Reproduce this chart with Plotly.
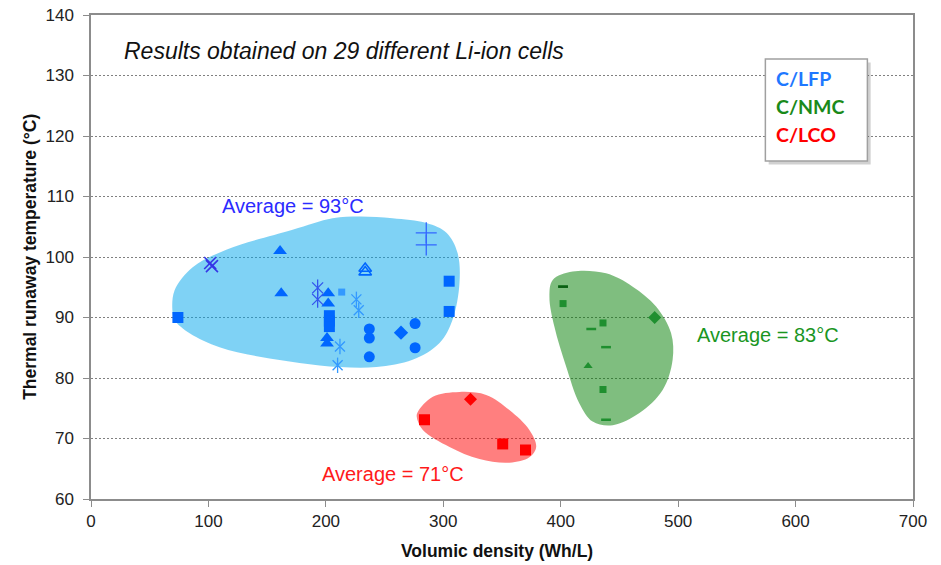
import plotly.graph_objects as go

# ---------------- data ----------------
# C/LFP cells
lfp_square_x = [74, 203, 203, 203, 305, 305]
lfp_square_y = [90, 90.3, 89.4, 88.5, 96, 91]
lfp_small_square_x = [213.5]
lfp_small_square_y = [94.2]
lfp_triangle_x = [161, 162, 202, 202, 201, 201]
lfp_triangle_y = [101, 94, 94, 92.3, 86.6, 85.7]
lfp_open_triangle_x = [233.5, 233.5]
lfp_open_triangle_y = [98.1, 97.5]
lfp_circle_x = [237, 237, 237, 276, 276]
lfp_circle_y = [88.1, 86.6, 83.5, 89, 85]
lfp_diamond_x = [264]
lfp_diamond_y = [87.5]
lfp_x_x = [101.5, 103]
lfp_x_y = [99, 98.5]
lfp_star_x = [193, 193]
lfp_star_y = [94.9, 93.0]
lfp_light_star_x = [226, 228, 212, 210]
lfp_light_star_y = [93, 91.2, 85.2, 82.1]
lfp_cross_x = [285.5, 285.5]
lfp_cross_y = [104, 102]

# C/NMC cells
nmc_square_x = [402, 436, 436]
nmc_square_y = [92.3, 89.1, 78.1]
nmc_dash_x = [402, 426, 438.6, 438.6]
nmc_dash_y = [95.1, 88.1, 85.1, 73.1]
nmc_triangle_x = [423.3]
nmc_triangle_y = [82]
nmc_diamond_x = [480]
nmc_diamond_y = [90]

# C/LCO cells
lco_square_x = [284, 350.6, 370]
lco_square_y = [73.1, 69.1, 68.1]
lco_diamond_x = [323.2]
lco_diamond_y = [76.5]

# outlines of the highlighted regions
lfp_region_x = [69.3, 71.2, 84.0, 109.5, 143.6, 177.6, 211.7, 243.1, 273.8, 296.8, 307.8,
                313.8, 312.1, 302.7, 285.7, 256.8, 228.7, 205.7, 171.7, 115.2, 86.6, 71.2, 69.3]
lfp_region_y = [91.2, 89.6, 87.4, 85.1, 83.5, 82.5, 81.8, 81.8, 83.0, 85.8, 89.6,
                95.7, 100.7, 104.0, 105.6, 106.4, 106.7, 106.4, 104.5, 101.2, 98.3, 94.5, 91.2]
nmc_region_x = [393.2, 410.2, 438.6, 461.3, 481.2, 494.0, 495.3, 486.8, 467.0, 444.3,
                427.2, 415.9, 404.6, 394.6, 390.4, 393.2]
nmc_region_y = [96.2, 97.6, 97.3, 95.1, 91.8, 87.4, 83.0, 78.0, 74.2, 72.2,
                72.8, 75.8, 81.9, 88.5, 93.4, 96.2]
lco_region_x = [278.3, 291.1, 313.8, 336.5, 356.3, 373.3, 379.1, 373.3, 356.3, 330.8,
                305.3, 282.6, 277.4, 278.3]
lco_region_y = [74.4, 76.9, 77.7, 77.2, 74.7, 71.4, 68.6, 66.9, 66.0, 66.6,
                68.6, 71.4, 73.6, 74.4]

averages = ["Average = 93°C", "Average = 83°C", "Average = 71°C"]
average_x = [109.6, 514.7, 194.7]
average_y = [108.4, 87.1, 64.1]
legend_labels = ["C/LFP", "C/NMC", "C/LCO"]

title_text = "Results obtained on 29 different Li-ion cells"
x_title = "Volumic density (Wh/L)"
y_title = "Thermal runaway temperature (°C)"

# ---------------- styles ----------------
BLUE = "#0066ff"
LIGHT = "#3399ff"
DARKB = "#3636e6"
GREEN = "#1f8f2f"
DKGREEN = "#0b5e12"
RED = "#ff0000"

fig = go.Figure()

def region(x, y, color):
    fig.add_trace(go.Scatter(x=x, y=y, mode="lines", fill="toself", fillcolor=color,
                             line=dict(color="rgba(0,0,0,0)", width=0, shape="spline", smoothing=1.0),
                             hoverinfo="skip", showlegend=False))

region(lfp_region_x, lfp_region_y, "rgba(0,166,235,0.5)")
region(nmc_region_x, nmc_region_y, "rgba(0,125,0,0.5)")
region(lco_region_x, lco_region_y, "rgba(255,0,0,0.5)")

def pts(x, y, symbol, size, color, lw=0, lcolor=None):
    fig.add_trace(go.Scatter(x=x, y=y, mode="markers", showlegend=False,
                             marker=dict(symbol=symbol, size=size, color=color,
                                         line=dict(width=lw, color=lcolor or color))))

pts(lfp_square_x, lfp_square_y, "square", 11, BLUE)
pts(lfp_small_square_x, lfp_small_square_y, "square", 7, LIGHT)
pts(lfp_triangle_x, lfp_triangle_y, "triangle-up", 12, BLUE)
pts(lfp_open_triangle_x, lfp_open_triangle_y, "triangle-up-open", 11, BLUE, 1.6)
pts(lfp_circle_x, lfp_circle_y, "circle", 11, BLUE)
pts(lfp_diamond_x, lfp_diamond_y, "diamond", 11, BLUE)
pts(lfp_x_x, lfp_x_y, "x-thin", 12, DARKB, 1.6)
pts(lfp_star_x, lfp_star_y, "x-thin", 11, "#3355ee", 1.3)
pts(lfp_star_x, lfp_star_y, "line-ns", 12, "#3355ee", 1.3)
pts(lfp_light_star_x, lfp_light_star_y, "x-thin", 10, LIGHT, 1.3)
pts(lfp_light_star_x, lfp_light_star_y, "line-ns", 11, LIGHT, 1.3)
pts(lfp_cross_x, lfp_cross_y, "cross-thin", 15, "#3366ff", 1.3)

pts(nmc_square_x, nmc_square_y, "square", 7, GREEN)
pts(nmc_dash_x, nmc_dash_y, "line-ew", 7, GREEN, 2.5)
pts(nmc_dash_x[:1], nmc_dash_y[:1], "line-ew", 7, DKGREEN, 2.5)
pts(nmc_triangle_x, nmc_triangle_y, "triangle-up", 8, GREEN)
pts(nmc_diamond_x, nmc_diamond_y, "diamond", 10, GREEN)

pts(lco_square_x, lco_square_y, "square", 11, RED)
pts(lco_diamond_x, lco_diamond_y, "diamond", 10, RED)

avg_colors = ["#2b2bff", "#1a961f", "#ff1a1a"]
for t, x, y, c in zip(averages, average_x, average_y, avg_colors):
    fig.add_annotation(x=x, y=y, text=t, showarrow=False, xanchor="left", yanchor="middle",
                       font=dict(family="Liberation Sans, Arial", size=20, color=c))

fig.add_annotation(x=26.2, y=134.1, text="<i>" + title_text + "</i>", showarrow=False,
                   xanchor="left", yanchor="middle",
                   font=dict(family="Liberation Sans, Arial", size=23, color="#111111"))

# legend box
bx0, bx1, by0, by1 = 0.8204, 0.9445, 0.6983, 0.909
fig.add_shape(type="rect", xref="paper", yref="paper", x0=bx0 + 0.004, x1=bx1 + 0.004,
              y0=by0 - 0.007, y1=by1 - 0.007, fillcolor="rgba(0,0,0,0.18)", line=dict(width=0),
              layer="above")
fig.add_shape(type="rect", xref="paper", yref="paper", x0=bx0, x1=bx1, y0=by0, y1=by1,
              fillcolor="white", line=dict(color="#a0a0a0", width=1.5), layer="above")
leg_colors = ["#1f78ff", "#1a8a1a", "#ff0000"]
leg_y = [0.8678, 0.811, 0.754]
for t, c, yy in zip(legend_labels, leg_colors, leg_y):
    fig.add_annotation(xref="paper", yref="paper", x=0.8314, y=yy, text="<b>" + t + "</b>",
                       showarrow=False, xanchor="left", yanchor="middle",
                       font=dict(family="Lato, Open Sans", size=19.5, color=c))

# axis titles
fig.add_annotation(xref="paper", yref="paper", x=0.4934, y=-0.1074, text="<b>" + x_title + "</b>",
                   showarrow=False, xanchor="center", yanchor="middle",
                   font=dict(family="Liberation Sans, Arial", size=17.5, color="#111111"))
fig.add_annotation(xref="paper", yref="paper", x=-0.0744, y=0.5, text="<b>" + y_title + "</b>",
                   showarrow=False, xanchor="center", yanchor="middle", textangle=-90,
                   font=dict(family="Liberation Sans, Arial", size=17.5, color="#111111"))

axis_common = dict(showline=True, mirror=True, linecolor="#8c8c8c", linewidth=1.5,
                   ticks="outside", ticklen=6, tickcolor="#8c8c8c", tickwidth=1,
                   tickfont=dict(family="Liberation Sans, Arial", size=17, color="#222222"),
                   zeroline=False, automargin=False)
fig.update_xaxes(range=[0, 700], dtick=100, tick0=0, showgrid=False, **axis_common)
fig.update_yaxes(range=[60, 140], dtick=10, tick0=60, showgrid=True, gridcolor="#808080",
                 griddash="2px,2px", gridwidth=1, ticklabelstandoff=6, **axis_common)

fig.update_layout(width=941, height=565, margin=dict(l=91, r=28, t=15, b=66, autoexpand=False),
                  paper_bgcolor="white", plot_bgcolor="white", showlegend=False)

fig.write_html("out.html", config={"displayModeBar": False},
               post_script="document.body.style.margin='0';document.body.style.padding='0';"
                           "document.body.style.overflow='hidden';")
